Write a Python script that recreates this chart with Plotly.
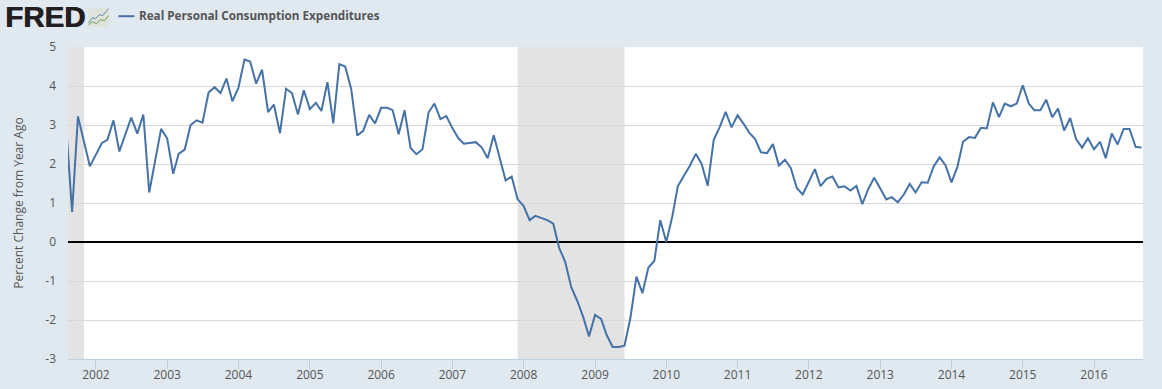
import pandas as pd
import plotly.graph_objects as go

SERIES_NAME = "Real Personal Consumption Expenditures"
Y_TITLE = "Percent Change from Year Ago"

months = pd.date_range("2001-08-01", "2016-09-01", freq="MS")

values_2001 = [3.00, 0.77, 3.22, 2.60, 1.94]
values_2002 = [2.24, 2.54, 2.62, 3.12, 2.32, 2.77, 3.19, 2.78, 3.27, 1.27, 2.10, 2.90]
values_2003 = [2.66, 1.75, 2.26, 2.37, 3.00, 3.12, 3.06, 3.83, 3.97, 3.82, 4.19, 3.61]
values_2004 = [3.95, 4.68, 4.63, 4.06, 4.42, 3.33, 3.52, 2.79, 3.93, 3.82, 3.27, 3.89]
values_2005 = [3.41, 3.57, 3.36, 4.10, 3.04, 4.56, 4.50, 3.92, 2.73, 2.85, 3.26, 3.04]
values_2006 = [3.44, 3.44, 3.38, 2.76, 3.38, 2.41, 2.25, 2.38, 3.32, 3.55, 3.15, 3.23]
values_2007 = [2.92, 2.66, 2.52, 2.55, 2.56, 2.42, 2.15, 2.74, 2.15, 1.58, 1.68, 1.10]
values_2008 = [0.92, 0.56, 0.67, 0.62, 0.56, 0.47, -0.15, -0.51, -1.16, -1.50, -1.92, -2.42]
values_2009 = [-1.87, -1.97, -2.38, -2.69, -2.69, -2.66, -1.95, -0.89, -1.31, -0.66, -0.48, 0.56]
values_2010 = [0.00, 0.66, 1.43, 1.70, 1.95, 2.26, 2.00, 1.44, 2.62, 2.94, 3.34, 2.94]
values_2011 = [3.25, 3.03, 2.81, 2.64, 2.30, 2.28, 2.51, 1.96, 2.11, 1.89, 1.38, 1.22]
values_2012 = [1.53, 1.87, 1.43, 1.62, 1.68, 1.40, 1.43, 1.32, 1.44, 0.97, 1.36, 1.65]
values_2013 = [1.37, 1.09, 1.15, 1.02, 1.21, 1.49, 1.27, 1.53, 1.52, 1.93, 2.17, 1.97]
values_2014 = [1.53, 1.94, 2.57, 2.69, 2.67, 2.93, 2.91, 3.58, 3.20, 3.55, 3.48, 3.55]
values_2015 = [4.02, 3.55, 3.38, 3.38, 3.65, 3.20, 3.42, 2.86, 3.18, 2.64, 2.42, 2.66]
values_2016 = [2.38, 2.57, 2.15, 2.78, 2.50, 2.90, 2.90, 2.44, 2.42]

values = (values_2001 + values_2002 + values_2003 + values_2004 + values_2005 + values_2006
          + values_2007 + values_2008 + values_2009 + values_2010 + values_2011 + values_2012
          + values_2013 + values_2014 + values_2015 + values_2016)

years = list(range(2002, 2017))
y_ticks = [-3, -2, -1, 0, 1, 2, 3, 4, 5]
y_labels = ["-3", "-2", "-1", "0", "1", "2", "3", "4", "5"]
recessions = [("2001-03-01", "2001-11-01"), ("2007-12-01", "2009-06-01")]

W, H = 1162, 389
L, R, T, B = 67.5, 1143.3, 47.3, 359.3
TEXT = "#555555"
BG = "#e1e9f0"
BLUE = "#4572a7"
FONT = "Open Sans"


def px(x):
    return (x - L) / (R - L)


def py(y):
    return (B - y) / (B - T)


def path(points):
    return "M " + " L ".join(f"{px(x):.5f},{py(y):.5f}" for x, y in points)


fig = go.Figure(
    go.Scatter(x=months, y=values, mode="lines", name=SERIES_NAME,
               line=dict(color=BLUE, width=2), showlegend=False,
               hovertemplate="%{x|%b %Y}: %{y}<extra></extra>")
)

shapes = [
    dict(type="rect", layer="below", xref="x", yref="paper", x0=s, x1=e, y0=0, y1=1,
         fillcolor="#e3e3e3", line_width=0)
    for s, e in recessions
]
# legend key
shapes.append(dict(type="line", xref="paper", yref="paper", x0=px(118), x1=px(134),
                   y0=py(16.5), y1=py(16.5), line=dict(color=BLUE, width=2)))
# FRED logo badge
shapes.append(dict(type="rect", xref="paper", yref="paper", x0=px(87.5), x1=px(108.5),
                   y0=py(27.5), y1=py(8.5), fillcolor="#dfe3dc", line_width=0))
shapes.append(dict(type="path", xref="paper", yref="paper", line=dict(color="#5f8ab5", width=1),
                   path=path([(88, 23), (92, 18), (95, 19), (99, 15), (102, 16), (108, 9)])))
shapes.append(dict(type="path", xref="paper", yref="paper", line=dict(color="#7a9c4c", width=1),
                   path=path([(88, 25), (92, 22), (96, 24), (100, 20), (104, 21), (108, 16)])))

annotations = [
    dict(xref="paper", yref="paper", x=px(139), y=py(15), xanchor="left", yanchor="middle",
         text=f"<b>{SERIES_NAME}</b>", showarrow=False, xshift=-2,
         font=dict(family=FONT, size=11.7, color=TEXT)),
    dict(xref="paper", yref="paper", x=px(2), y=py(17), xanchor="left", yanchor="middle",
         text="<b>FRED</b>", showarrow=False,
         font=dict(family="Liberation Sans", size=29.5, color="#231f20",
                   shadow="0.7px 0 0 #231f20")),
]

fig.update_layout(
    width=W, height=H, autosize=False,
    margin=dict(l=L, r=W - R, t=T, b=H - B, pad=0, autoexpand=False),
    paper_bgcolor=BG, plot_bgcolor="#ffffff",
    font=dict(family=FONT, size=12, color=TEXT),
    shapes=shapes, annotations=annotations, showlegend=False,
    xaxis=dict(
        type="date", range=["2001-08-11", "2016-09-08"], automargin=False,
        tickvals=[f"{y}-01-01" for y in years], ticktext=[str(y) for y in years],
        ticks="outside", ticklen=9, tickwidth=1, tickcolor="#c0d0e0", ticklabelstandoff=-4,
        showgrid=False, showline=True, linecolor="#c0d0e0", linewidth=1,
        zeroline=False, tickfont=dict(family=FONT, size=12, color=TEXT),
    ),
    yaxis=dict(
        range=[-3, 5], tickvals=y_ticks, ticktext=y_labels, ticks="", automargin=False,
        ticklabelstandoff=11,
        showgrid=True, gridcolor="#d8d8d8", gridwidth=1,
        zeroline=True, zerolinecolor="#000000", zerolinewidth=2, showline=False,
        tickfont=dict(family=FONT, size=12, color=TEXT),
        title=dict(text=Y_TITLE, font=dict(family=FONT, size=12, color=TEXT), standoff=19),
    ),
)

fig.write_html("out.html", config={"displayModeBar": False},
               post_script="document.body.style.margin='0';")
